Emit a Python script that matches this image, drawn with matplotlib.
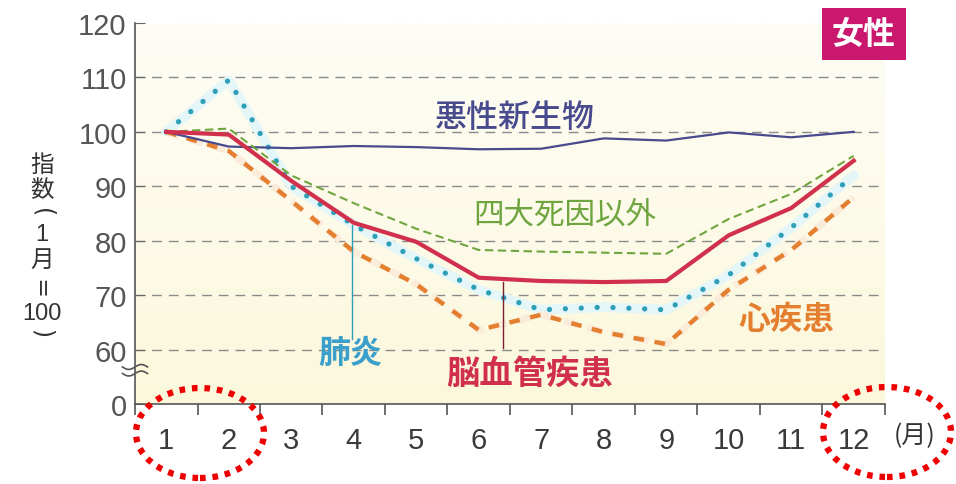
import numpy as np
import matplotlib
matplotlib.use('Agg')
import matplotlib.pyplot as plt
from matplotlib.patches import Ellipse

plt.rcParams['font.family'] = ['Noto Sans CJK JP', 'DejaVu Sans']

# monthly index values (January = 100)
months = np.arange(1, 13)
month_labels = [str(m) for m in months]
akusei = [100, 97.3, 97.0, 97.4, 97.2, 96.8, 96.9, 98.8, 98.4, 99.9, 99.0, 100.0]
shidai_igai = [100, 100.6, 92.0, 86.9, 82.2, 78.3, 78.0, 77.8, 77.6, 84.0, 88.6, 95.6]
noukekkan = [100, 99.5, 91.0, 83.3, 79.8, 73.2, 72.6, 72.4, 72.6, 81.0, 86.0, 94.7]
haien = [100, 109.5, 90.0, 82.9, 76.7, 71.0, 67.3, 67.8, 67.3, 73.7, 82.4, 92.0]
shinshikkan = [100, 96.5, 87.3, 78.0, 72.0, 63.6, 66.4, 63.2, 61.0, 71.0, 78.3, 88.0]

y_ticks = [50, 60, 70, 80, 90, 100, 110, 120]
y_tick_labels = ['0', '60', '70', '80', '90', '100', '110', '120']

NAVY = '#474a8c'
GREEN = '#6fa53f'
RED = '#d0304c'
CYAN = '#2f9fb8'
ORANGE = '#e47f30'
TXT = '#555555'

fig = plt.figure(figsize=(9.56, 4.85), dpi=100)
ax = fig.add_axes([135 / 956, 80 / 485, 750 / 956, 381 / 485])

x = months - 0.5
ax.set_xlim(0, 12)
ax.set_ylim(50, 120)

# cream gradient background
grad = np.linspace(0, 1, 256).reshape(-1, 1)
cmap = matplotlib.colors.LinearSegmentedColormap.from_list('bg', ['#fcf8dc', '#fefdf6'])
ax.imshow(grad, extent=[0, 1, 0, 1], transform=ax.transAxes, cmap=cmap,
          aspect='auto', origin='lower', zorder=0)

for v in range(60, 120, 10):
    ax.axhline(v, color='#8a8a8a', lw=1.0, dashes=(7, 5), zorder=1)

ax.plot(x, akusei, color=NAVY, lw=1.6, zorder=4)
ax.plot(x, shidai_igai, color=GREEN, lw=1.5, dashes=(4, 2.2), zorder=4)
ax.plot(x, haien, color='#e4f6f8', lw=7, solid_capstyle='round', zorder=2)
ax.plot(x, haien, color=CYAN, lw=3.8, dashes=(0.01, 3.0), dash_capstyle='round', zorder=3)
ax.plot(x, shinshikkan, color='#fbebd9', lw=5, dashes=(2.0, 1.5), zorder=2)
ax.plot(x, shinshikkan, color=ORANGE, lw=3.2, dashes=(2.4, 2.4), zorder=3)
ax.plot(x, noukekkan, color=RED, lw=3.0, zorder=5)

# pointer lines
ax.plot([3.47, 3.47], [82.9, 62.0], color=CYAN, lw=1.0, zorder=3)
ax.plot([5.89, 5.89], [72.4, 60.2], color='#7a2030', lw=1.0, zorder=3)

# series labels
ax.text(6.08, 102.8, '悪性新生物', color=NAVY, fontsize=23, fontweight='medium',
        ha='center', va='center')
ax.text(6.88, 84.9, '四大死因以外', color=GREEN, fontsize=22, ha='center', va='center')
ax.text(3.44, 59.4, '肺炎', color='#3a9fcb', fontsize=23, fontweight='bold', ha='center', va='center')
ax.text(6.32, 55.6, '脳血管疾患', color=RED, fontsize=24, fontweight='bold', ha='center', va='center')
ax.text(10.43, 65.6, '心疾患', color=ORANGE, fontsize=23, fontweight='bold', ha='center', va='center')

# axes styling
for s in ['top', 'right']:
    ax.spines[s].set_visible(False)
for s in ['left', 'bottom']:
    ax.spines[s].set_color('#555555')
    ax.spines[s].set_linewidth(1.2)
    ax.spines[s].set_zorder(6)

ax.set_yticks(y_ticks)
ax.set_yticklabels(y_tick_labels, family='Liberation Sans', fontsize=21, color=TXT)
ax.tick_params(axis='y', direction='in', length=7, color='#666666', pad=6)

ax.set_xticks(np.arange(0, 13), minor=False)
ax.set_xticklabels([])
ax.set_xticks(x, minor=True)
ax.set_xticklabels(month_labels, minor=True, family='Liberation Sans', fontsize=21, color='#3a3a3a')
ax.tick_params(axis='x', which='major', direction='out', length=8, color='#555555', width=1.2)
ax.tick_params(axis='x', which='minor', length=0, pad=16)

# axis break mark
bx = np.linspace(-0.2, 0.2, 30)
for yb in [56.8, 55.6]:
    ax.plot(bx, yb + 0.45 * np.sin(bx / 0.2 * np.pi), color='#555555', lw=1.2,
            clip_on=False, zorder=7)

fig.text(915 / 956, 1 - 436 / 485, '(月)', fontsize=18, color='#333333', ha='center', va='center')

# vertical y-axis label
ycol = 42 / 956
fig.text(ycol, 1 - 165 / 485, '指', fontsize=17, color='#333333', ha='center', va='center')
fig.text(ycol, 1 - 191 / 485, '数', fontsize=17, color='#333333', ha='center', va='center')
fig.text(ycol, 1 - 213 / 485, '(', fontsize=17, color='#333333', ha='center', va='center',
         rotation=-90, family='DejaVu Sans')
fig.text(ycol, 1 - 235 / 485, '1', fontsize=17, color='#333333', ha='center', va='center',
         family='Liberation Sans')
fig.text(ycol, 1 - 260 / 485, '月', fontsize=17, color='#333333', ha='center', va='center')
fig.text(ycol, 1 - 285 / 485, '=', fontsize=17, color='#333333', ha='center', va='center',
         rotation=90, family='DejaVu Sans')
fig.text(ycol, 1 - 314 / 485, '100', fontsize=17, color='#333333', ha='center', va='center',
         family='Liberation Sans')
fig.text(ycol, 1 - 334 / 485, ')', fontsize=17, color='#333333', ha='center', va='center',
         rotation=-90, family='DejaVu Sans')

# 女性 badge
fig.text(864 / 956, 1 - 35 / 485, '女性', fontsize=23, fontweight='bold', color='white',
         ha='center', va='center',
         bbox=dict(boxstyle='square,pad=0.3', facecolor='#c9186e', edgecolor='none'))

# red dotted ellipses
for cx, cy in [(200, 434), (887, 433)]:
    e = Ellipse((cx / 956, 1 - cy / 485), 128 / 956, 90 / 485, transform=fig.transFigure,
                fill=False, edgecolor='#ee0000', lw=4.5, linestyle=(0, (0.9, 1.1)),
                clip_on=False, zorder=10)
    fig.patches.append(e)

fig.savefig('out.png', dpi=100)
